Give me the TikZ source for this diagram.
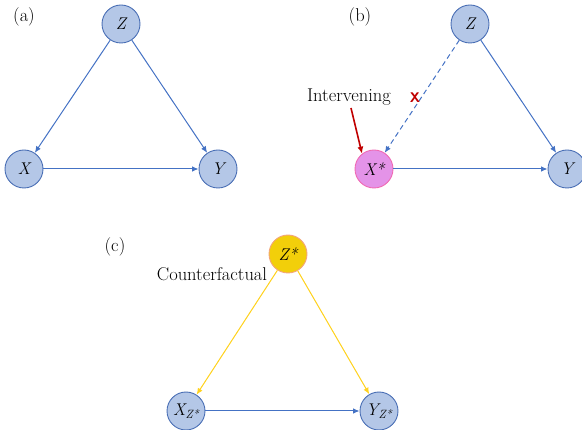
\documentclass[tikz,border=0pt]{standalone}
\usepackage{fontspec}
\usetikzlibrary{arrows.meta}
\definecolor{nodefill}{HTML}{B4C7E7}
\definecolor{nodeline}{HTML}{4A6FB5}
\definecolor{arrblue}{HTML}{4472C4}
\definecolor{pinkfill}{HTML}{E493E8}
\definecolor{pinkline}{HTML}{F06AB4}
\definecolor{yelfill}{HTML}{F2CF0A}
\definecolor{yelline}{HTML}{F2A57C}
\definecolor{yelarr}{HTML}{FFD21F}
\definecolor{redarr}{HTML}{C00000}
\newcommand{\subz}{\raisebox{-0.4ex}{\fontsize{12}{13}\selectfont\itshape Z*}}
\begin{document}
\begin{tikzpicture}[x=1pt,y=-1pt,
  var/.style={circle,minimum size=38pt,inner sep=0pt,draw=nodeline,fill=nodefill,line width=0.9pt,font=\fontsize{17}{19}\selectfont\itshape},
  pinkvar/.style={var,draw=pinkline,fill=pinkfill},
  yelvar/.style={var,draw=yelline,fill=yelfill},
  arr/.style={draw=arrblue,line width=1pt,-{Latex[length=6.5pt,width=5.5pt]}},
  yarr/.style={arr,draw=yelarr,fill=yelarr},
  rarr/.style={draw=redarr,line width=1.6pt,-{Latex[length=7pt,width=6pt]}},
  lab/.style={font=\fontsize{18.5}{21}\selectfont,inner sep=0pt}]
\useasboundingbox (0,0) rectangle (582,430);
% (a)
\node[lab] (la) at (24,17) {(a)};
\node[var] (Za) at (121,24) {Z};
\node[var] (Xa) at (24,169) {X};
\node[var] (Ya) at (218,169) {Y};
\draw[arr] (Za) -- (Xa);
\draw[arr] (Za) -- (Ya);
\draw[arr] (Xa) -- (Ya);
% (b)
\node[lab] (lb) at (360,17) {(b)};
\node[var] (Zb) at (470,24) {Z};
\node[pinkvar] (Xb) at (374,169) {X*};
\node[var] (Yb) at (567,169) {Y};
\draw[arr,dashed,dash pattern=on 5pt off 3.5pt] (Zb) -- (Xb);
\draw[arr] (Zb) -- (Yb);
\draw[arr] (Xb) -- (Yb);
\node[lab] (int) at (349,97) {Intervening};
\coordinate (rs) at (351,108);
\draw[rarr] (rs) -- (Xb.128);
\node[font=\sffamily\bfseries\fontsize{14}{16}\selectfont,text=redarr,inner sep=0pt] (cross) at (415,98) {X};
% (c)
\node[lab] (lc) at (115,247) {(c)};
\node[yelvar] (Zc) at (288,254) {Z*};
\node[var] (Xc) at (186,411) {X\subz};
\node[var] (Yc) at (379,411) {Y\subz};
\node[lab] (cf) at (212,274) {Counterfactual};
\draw[yarr] (Zc) -- (Xc);
\draw[yarr] (Zc) -- (Yc);
\draw[arr] (Xc) -- (Yc);
\end{tikzpicture}
\end{document}
